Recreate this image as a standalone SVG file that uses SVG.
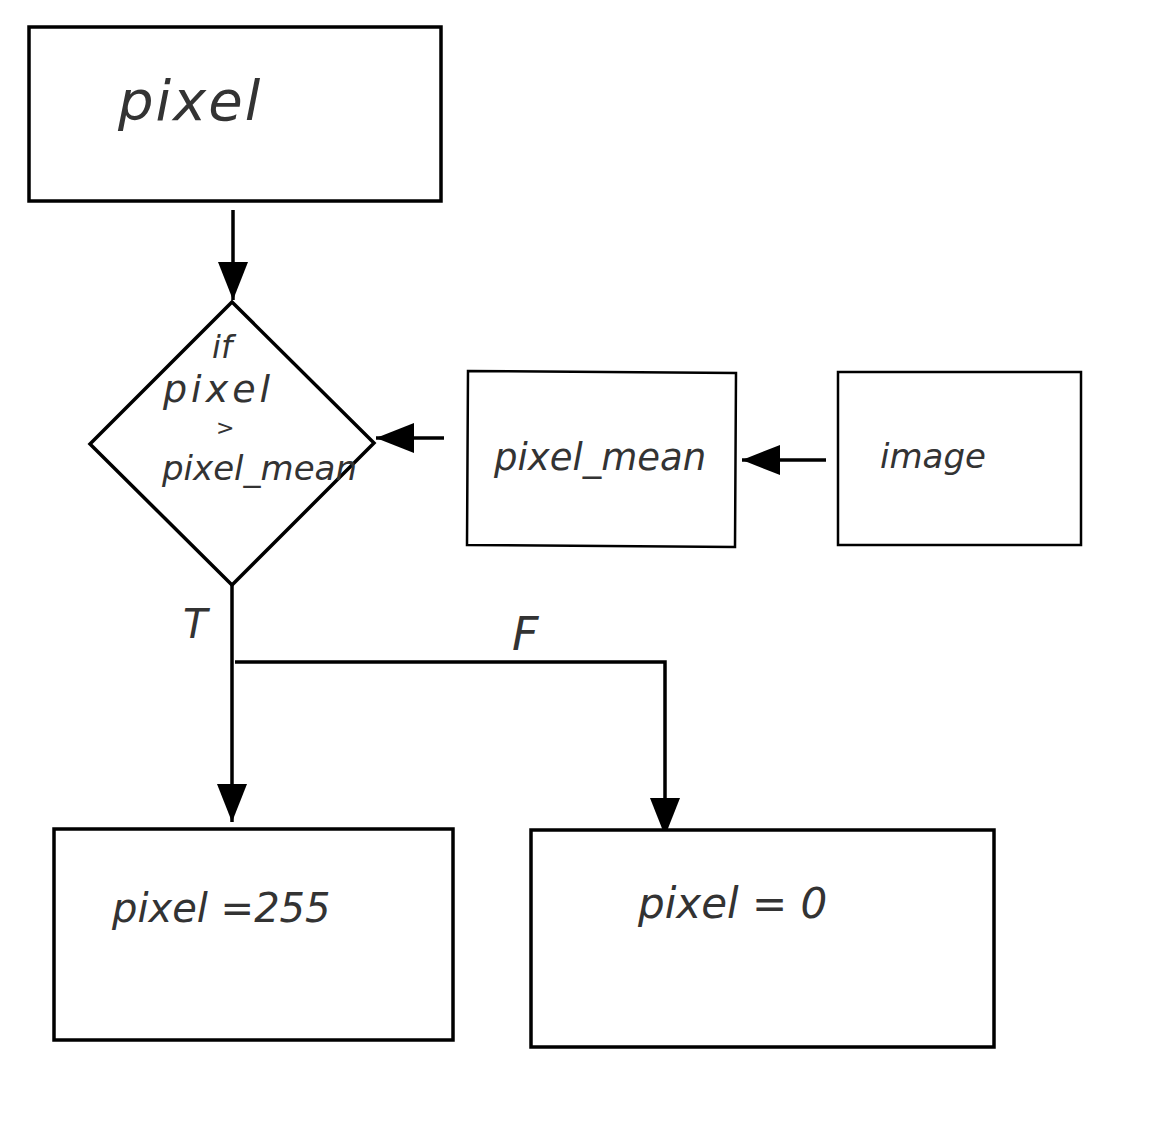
<svg xmlns="http://www.w3.org/2000/svg" width="1174" height="1123" viewBox="0 0 1174 1123">
<style>
.box{fill:#fff;stroke:#000;stroke-width:3.5}
.thin{stroke-width:2.5}
.t{font-family:"DejaVu Sans","Liberation Sans",sans-serif;fill:#333;font-style:italic}
.c{fill:none;stroke:#000;stroke-width:3.5}
</style>
<defs>
<marker id="ah" markerUnits="userSpaceOnUse" markerWidth="40" markerHeight="32" viewBox="0 0 40 32" refX="38" refY="16" orient="auto">
<path d="M0,1 L38,16 L0,31 Z" fill="#000"/>
</marker>
</defs>
<rect width="1174" height="1123" fill="#fff"/>
<g id="connectors">
<line class="c" x1="233" y1="210" x2="233" y2="300" marker-end="url(#ah)"/>
<line class="c" x1="444" y1="438" x2="376" y2="438" marker-end="url(#ah)"/>
<line class="c" x1="826" y1="460" x2="742" y2="460" marker-end="url(#ah)"/>
<line class="c" x1="232" y1="585" x2="232" y2="822" marker-end="url(#ah)"/>
<polyline class="c" points="235,662 665,662 665,836" marker-end="url(#ah)"/>
<text class="t" x="183" y="638" font-size="40" font-style="normal">T</text>
<text class="t" x="512" y="650" font-size="46" font-style="normal">F</text>
</g>
<g id="node-pixel">
<rect class="box" x="29" y="27" width="412" height="174"/>
<text class="t" x="118" y="120" font-size="56" letter-spacing="2">pixel</text>
</g>
<g id="node-decision">
<polygon class="box" points="232,302 374,443 232,585 90,444"/>
<text class="t" x="212" y="358" font-size="32">if</text>
<text class="t" x="163" y="402" font-size="38" letter-spacing="4">pixel</text>
<text class="t" x="216" y="435" font-size="22" font-style="normal">&gt;</text>
<text class="t" x="162" y="480" font-size="34">pixel_mean</text>
</g>
<g id="node-pixel-mean">
<polygon class="box thin" points="468,371 736,373 735,547 467,545"/>
<text class="t" x="494" y="470" font-size="37">pixel_mean</text>
</g>
<g id="node-image">
<rect class="box thin" x="838" y="372" width="243" height="173"/>
<text class="t" x="880" y="468" font-size="34">image</text>
</g>
<g id="node-255">
<rect class="box" x="54" y="829" width="399" height="211"/>
<text class="t" x="112" y="922" font-size="40">pixel =255</text>
</g>
<g id="node-0">
<rect class="box" x="531" y="830" width="463" height="217"/>
<text class="t" x="638" y="918" font-size="42">pixel = 0</text>
</g>
</svg>
